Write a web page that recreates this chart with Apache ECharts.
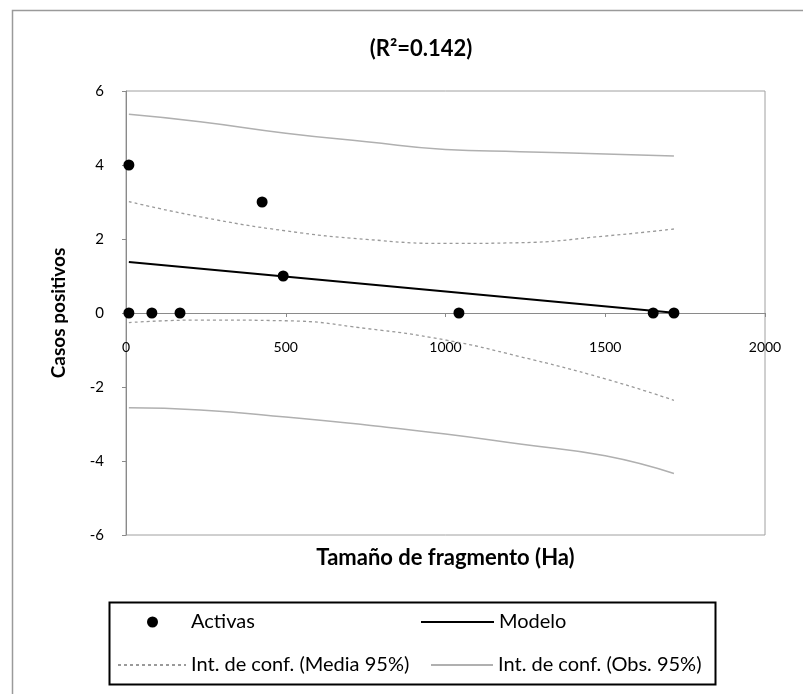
<!DOCTYPE html>
<html><head><meta charset="utf-8">
<script src="https://cdn.jsdelivr.net/npm/echarts@6/dist/echarts.min.js"></script>
<style>html,body{margin:0;padding:0;background:#fff}#c{width:803px;height:694px}</style>
</head><body><div id="c"></div>
<script>
// Observed points (Activas)
const activasX = [9, 9, 81, 169, 426, 492, 1042, 1650, 1715];
const activasY = [4, 0, 0, 0, 3, 1, 0, 0, 0];
// Model line endpoints
const modeloX = [9, 1715];
const modeloY = [1.38, 0.01];
// Confidence bands
const bandX = [9, 232, 500, 753, 1000, 1233, 1500, 1715];
const mediaUpper = [3.01, 2.60, 2.22, 1.99, 1.88, 1.90, 2.08, 2.27];
const mediaLower = [-0.26, -0.19, -0.21, -0.42, -0.73, -1.18, -1.78, -2.36];
const obsUpper = [5.37, 5.17, 4.86, 4.63, 4.42, 4.36, 4.30, 4.24];
const obsLower = [-2.56, -2.62, -2.81, -3.03, -3.27, -3.54, -3.86, -4.34];
// Axis ticks
const xTicks = [0, 500, 1000, 1500, 2000];
const yTicks = [-6, -4, -2, 0, 2, 4, 6];

const zip = (xs, ys) => xs.map((x, i) => [x, ys[i]]);
const FONT = 'Lato';
const mediaName = 'Int. de conf. (Media 95%)';
const obsName = 'Int. de conf. (Obs. 95%)';
const mediaStyle = {color: '#9a9a9a', width: 1.3, type: [3, 3]};
const obsStyle = {color: '#b0b0b0', width: 1.5, type: 'solid'};

const chart = echarts.init(document.getElementById('c'));
const legendText = {fontFamily: FONT, fontSize: 20, color: '#000'};
const hideSym = {opacity: 0};
chart.setOption({
  animation: false,
  backgroundColor: '#fff',
  textStyle: {fontFamily: FONT},
  title: {
    text: '(R\u00B2=0.142)', left: 416, top: 33, textAlign: 'center',
    textStyle: {fontFamily: FONT, fontSize: 22, fontWeight: 'bold', color: '#000'}
  },
  grid: {left: 126, right: 38, top: 91, bottom: 159, show: true, borderColor: '#a0a0a0', borderWidth: 1,
         containLabel: false, outerBoundsMode: 'none'},
  xAxis: {
    type: 'value', min: xTicks[0], max: xTicks[xTicks.length - 1], interval: 500,
    name: 'Tamaño de fragmento (Ha)', nameLocation: 'middle', nameGap: 234,
    nameTextStyle: {fontFamily: FONT, fontSize: 22, fontWeight: 'bold', color: '#000'},
    offset: -222,
    axisLine: {onZero: false, lineStyle: {color: '#8a8a8a', width: 1}},
    axisTick: {show: true, length: 4, lineStyle: {color: '#8a8a8a'}},
    axisLabel: {fontFamily: FONT, fontSize: 14, color: '#000', margin: 27, formatter: v => String(v)},
    splitLine: {show: false}
  },
  yAxis: {
    type: 'value', min: yTicks[0], max: yTicks[yTicks.length - 1], interval: 2,
    name: 'Casos positivos', nameLocation: 'middle', nameGap: 58,
    nameTextStyle: {fontFamily: FONT, fontSize: 19, fontWeight: 'bold', color: '#000'},
    axisLine: {show: true, lineStyle: {color: '#8a8a8a', width: 1}},
    axisTick: {show: true, length: 4, lineStyle: {color: '#8a8a8a'}},
    axisLabel: {fontFamily: FONT, fontSize: 15, color: '#000', margin: 22},
    splitLine: {show: false}
  },
  legend: [
    {data: [{name: 'Activas', icon: 'circle'}], left: 147, top: 612, padding: 0,
     itemWidth: 11, itemHeight: 11, itemStyle: {color: '#000', opacity: 1},
     textStyle: Object.assign({}, legendText, {padding: [0, 0, 0, 28]})},
    {data: ['Modelo'], left: 420, top: 612, padding: 0, itemWidth: 73, itemHeight: 12, itemStyle: hideSym, textStyle: legendText},
    {data: [mediaName], left: 117, top: 655, padding: 0, itemWidth: 68, itemHeight: 12, itemStyle: hideSym, textStyle: legendText},
    {data: [obsName], left: 430, top: 655, padding: 0, itemWidth: 62, itemHeight: 12, itemStyle: hideSym, textStyle: legendText}
  ],
  graphic: [
    {type: 'rect', left: 10, top: 8, shape: {x: 0, y: 0, width: 820, height: 720},
     style: {fill: 'none', stroke: '#9a9a9a', lineWidth: 1.5}, silent: true, z: -1},
    {type: 'rect', left: 107, top: 600, shape: {x: 0, y: 0, width: 606, height: 82},
     style: {fill: 'none', stroke: '#000', lineWidth: 2}, silent: true}
  ],
  series: [
    {name: obsName, type: 'line', data: zip(bandX, obsUpper), smooth: true, symbol: 'none', lineStyle: obsStyle, itemStyle: {color: obsStyle.color}, z: 2},
    {name: obsName, type: 'line', data: zip(bandX, obsLower), smooth: true, symbol: 'none', lineStyle: obsStyle, itemStyle: {color: obsStyle.color}, z: 2},
    {name: mediaName, type: 'line', data: zip(bandX, mediaUpper), smooth: true, symbol: 'none', lineStyle: mediaStyle, itemStyle: {color: mediaStyle.color}, z: 2},
    {name: mediaName, type: 'line', data: zip(bandX, mediaLower), smooth: true, symbol: 'none', lineStyle: mediaStyle, itemStyle: {color: mediaStyle.color}, z: 2},
    {name: 'Modelo', type: 'line', data: zip(modeloX, modeloY), symbol: 'none', lineStyle: {color: '#000', width: 2}, itemStyle: {color: '#000'}, z: 3},
    {name: 'Activas', type: 'scatter', data: zip(activasX, activasY), symbol: 'circle', symbolSize: 11, itemStyle: {color: '#000', opacity: 1}, z: 4}
  ]
});
</script>
</body></html>
